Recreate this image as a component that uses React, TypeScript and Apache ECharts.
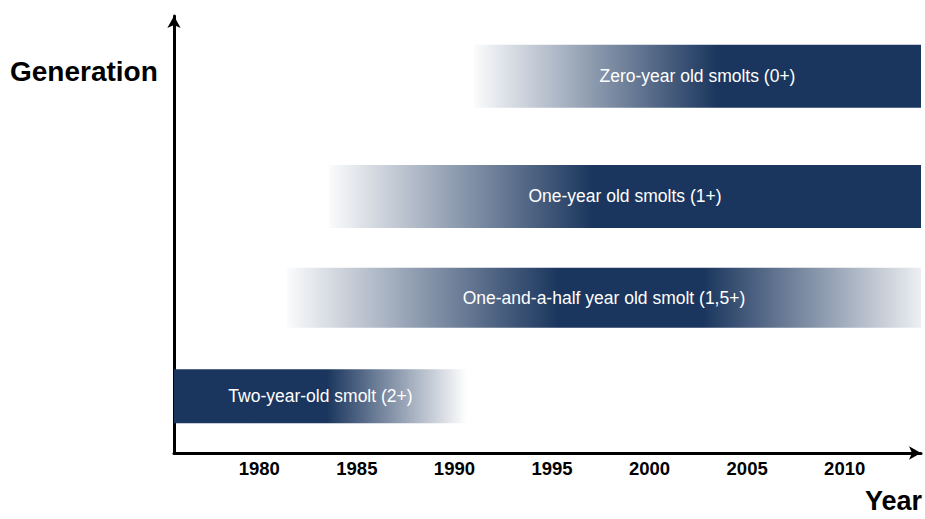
import React, { useEffect, useRef } from "react";
import * as echarts from "echarts";

// ---- data ----
const GENERATIONS = [
  "Zero-year old smolts (0+)",
  "One-year old smolts (1+)",
  "One-and-a-half year old smolt (1,5+)",
  "Two-year-old smolt (2+)",
];
const LEVELS = [86.2, 58.7, 35.5, 13.0];
const FADE_IN_FROM = [1991.0, 1983.57, 1981.42, 1975.63];
const FULL_FROM = [2003.46, 1997.05, 1995.31, 1975.63];
const FULL_TO = [2013.91, 2013.91, 2002.79, 1983.47];
const FADE_OUT_TO = [2013.91, 2013.91, 2013.91, 1990.64];
const YEAR_TICKS = [1980, 1985, 1990, 1995, 2000, 2005, 2010];
const X_MIN = 1975.63;
const X_MAX = 2013.91;

// ---- styles ----
const BAR_PX = [63, 63, 60, 54];
const END_ALPHA = [0, 0, 0.08, 0];
const NAVY = "#1b365e";
const FONT = "'Liberation Sans', Arial, sans-serif";

export default function App() {
  const ref = useRef<HTMLDivElement>(null);
  useEffect(() => {
    if (!ref.current) return;
    const chart = echarts.init(ref.current, undefined, { renderer: "svg" });
    const data = GENERATIONS.map((name, i) => ({
      name,
      value: [FADE_IN_FROM[i], FULL_FROM[i], FULL_TO[i], FADE_OUT_TO[i], LEVELS[i], i],
    }));
    chart.setOption({
      animation: false,
      grid: { left: 174, right: 4, top: 16, bottom: 66 },
      xAxis: {
        type: "value",
        min: X_MIN,
        max: X_MAX,
        axisLine: {
          show: true,
          onZero: false,
          symbol: ["none", "arrow"],
          symbolSize: [10, 12],
          lineStyle: { color: "#000", width: 3 },
        },
        axisTick: { show: false },
        splitLine: { show: false },
        axisLabel: {
          customValues: YEAR_TICKS,
          formatter: (v: number) => String(Math.round(v)),
          color: "#000",
          fontWeight: "bold",
          fontSize: 18.5,
          fontFamily: FONT,
          margin: 6,
        },
      },
      yAxis: {
        type: "value",
        min: 0,
        max: 100,
        axisLine: {
          show: true,
          onZero: false,
          symbol: ["none", "arrow"],
          symbolSize: [10, 12],
          lineStyle: { color: "#000", width: 3 },
        },
        axisTick: { show: false },
        splitLine: { show: false },
        axisLabel: { show: false },
      },
      graphic: [
        {
          type: "text",
          left: 10,
          top: 57,
          style: { text: "Generation", fill: "#000", font: `bold 28px ${FONT}` },
        },
        {
          type: "text",
          right: 3,
          top: 487,
          style: { text: "Year", fill: "#000", font: `bold 27px ${FONT}` },
        },
      ],
      series: [
        {
          type: "custom",
          data,
          renderItem: (params: any, api: any) => {
            const s = api.value(0);
            const f1 = api.value(1);
            const f2 = api.value(2);
            const e = api.value(3);
            const lvl = api.value(4);
            const idx = api.value(5);
            const p0 = api.coord([s, lvl]);
            const p1 = api.coord([e, lvl]);
            const h = BAR_PX[idx];
            const w = p1[0] - p0[0];
            const span = e - s;
            const stops: any[] = [];
            const a1 = (f1 - s) / span;
            const a2 = (f2 - s) / span;
            if (a1 > 0.001) {
              stops.push({ offset: 0, color: "rgba(27,54,94,0.02)" });
              stops.push({ offset: a1, color: NAVY });
            } else {
              stops.push({ offset: 0, color: NAVY });
            }
            stops.push({ offset: Math.min(a2, 1), color: NAVY });
            if (a2 < 0.999) {
              stops.push({ offset: 1, color: `rgba(27,54,94,${END_ALPHA[idx]})` });
            }
            return {
              type: "group",
              children: [
                {
                  type: "rect",
                  shape: { x: p0[0], y: p0[1] - h / 2, width: w, height: h },
                  style: { fill: new echarts.graphic.LinearGradient(0, 0, 1, 0, stops) },
                },
                {
                  type: "text",
                  style: {
                    text: GENERATIONS[idx],
                    x: p0[0] + w / 2,
                    y: p0[1],
                    align: "center",
                    verticalAlign: "middle",
                    fill: "#fff",
                    fontSize: 17.5,
                    fontFamily: FONT,
                  },
                },
              ],
            };
          },
        },
      ],
    });
    return () => chart.dispose();
  }, []);
  return (
    <div
      ref={ref}
      style={{ position: "fixed", left: 0, top: 0, width: 925, height: 519, background: "#fff" }}
    />
  );
}
